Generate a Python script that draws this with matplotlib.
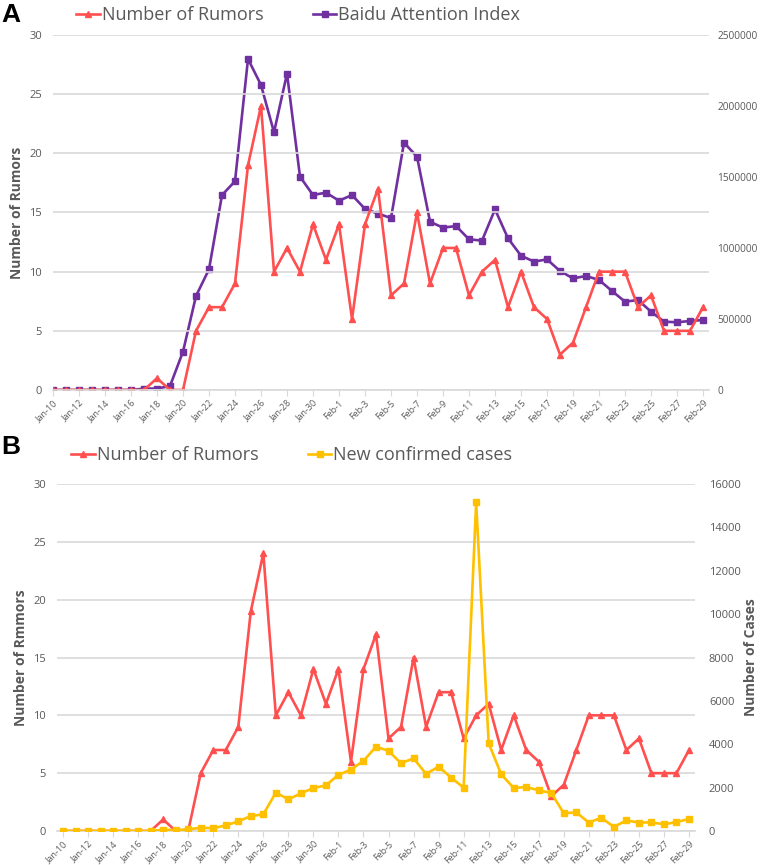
import matplotlib.pyplot as plt
from matplotlib.ticker import StrMethodFormatter

days = ['Jan-%d' % d for d in range(10, 32)] + ['Feb-%d' % d for d in range(1, 30)]
x = list(range(len(days)))

rumors = [0, 0, 0, 0, 0, 0, 0, 0, 1, 0, 0, 5, 7, 7, 9, 19, 24, 10, 12, 10, 14, 11,
          14, 6, 14, 17, 8, 9, 15, 9, 12, 12, 8, 10, 11, 7, 10, 7, 6, 3, 4, 7,
          10, 10, 10, 7, 8, 5, 5, 5, 7]

baidu = [0, 0, 0, 0, 0, 0, 0, 10000, 10000, 28000, 270000, 662000, 850000, 1373000,
         1470000, 2331000, 2148000, 1815000, 2228000, 1502000, 1373000, 1390000,
         1333000, 1373000, 1275000, 1242000, 1211000, 1742000, 1643000, 1185000,
         1143000, 1155000, 1061000, 1052000, 1272000, 1068000, 946000, 904000,
         920000, 838000, 786000, 803000, 775000, 697000, 622000, 634000, 552000,
         481000, 477000, 486000, 493000]

new_cases = [0, 0, 0, 0, 0, 0, 0, 0, 60, 40, 77, 149, 131, 259, 444, 688, 769, 1771,
             1459, 1737, 1982, 2102, 2590, 2829, 3235, 3887, 3694, 3122, 3353, 2630,
             2968, 2461, 2000, 15150, 4045, 2615, 1984, 2030, 1876, 1753, 815, 861,
             385, 615, 185, 492, 385, 400, 308, 415, 554]

red = '#FF4F4F'
purple = '#7030A0'
gold = '#FFC000'
grey = '#595959'
gridc = '#D9D9D9'
font = 'Open Sans'

W, H = 763, 865
fig = plt.figure(figsize=(W / 100, H / 100), dpi=100)


def style_axes(ax, ax2, xlo, xhi, rsize, rpad):
    ax.set_xlim(xlo, xhi)
    ax.set_ylim(0, 30)
    ax.set_yticks(range(0, 31, 5))
    ax.grid(axis='y', color=gridc, linewidth=1.2)
    ax.set_axisbelow(True)
    for s in ['top', 'right', 'left']:
        ax.spines[s].set_visible(False)
        ax2.spines[s].set_visible(False)
    ax2.spines['bottom'].set_visible(False)
    ax.spines['bottom'].set_color(gridc)
    ax.spines['bottom'].set_linewidth(1.2)
    ax.set_xticks(x[::2])
    ax.set_xticklabels(days[::2], rotation=45, ha='right', rotation_mode='anchor',
                       fontsize=6.5, color=grey, family=font)
    ax.tick_params(axis='x', color=gridc, length=4, pad=2)
    ax.tick_params(axis='y', length=0, labelsize=8, labelcolor=grey, pad=8)
    ax2.tick_params(axis='y', length=0, labelsize=rsize, labelcolor=grey, pad=rpad)
    ax2.yaxis.set_major_formatter(StrMethodFormatter('{x:.0f}'))
    for lab in ax.get_yticklabels() + ax2.get_yticklabels():
        lab.set_family(font)


# Panel A
axA = fig.add_axes([53 / W, 1 - 390 / H, (709 - 53) / W, 355 / H])
axA2 = axA.twinx()
lA1, = axA.plot(x, rumors, color=red, lw=1.9, marker='^', ms=5, label='Number of Rumors')
lA2, = axA2.plot(x, baidu, color=purple, lw=1.9, marker='s', ms=5, label='Baidu Attention Index')
axA2.set_ylim(0, 2500000)
axA2.set_yticks(range(0, 2500001, 500000))
style_axes(axA, axA2, 0, 50.46, 7.3, 6)
axA.set_ylabel('Number of Rumors', fontsize=10, color=grey, fontweight='bold', family=font, labelpad=4)
axA.set_zorder(axA2.get_zorder() + 1)
axA.patch.set_visible(False)
fig.legend(handles=[lA1, lA2], loc='center left', bbox_to_anchor=(60 / W, 1 - 15 / H), ncol=2,
           frameon=False, prop={'family': font, 'size': 13}, labelcolor=grey,
           handlelength=1.3, handletextpad=0.1, columnspacing=2.75)
fig.text(1 / W, 1 - 15 / H, 'A', fontsize=19, fontweight='bold', va='center', family='Liberation Sans')

# Panel B
axB = fig.add_axes([57 / W, 1 - 831 / H, (695 - 57) / W, 347 / H])
axB2 = axB.twinx()
lB1, = axB.plot(x, rumors, color=red, lw=1.9, marker='^', ms=5, label='Number of Rumors')
lB2, = axB2.plot(x, new_cases, color=gold, lw=1.9, marker='s', ms=5, label='New confirmed cases')
axB2.set_ylim(0, 16000)
axB2.set_yticks(range(0, 16001, 2000))
style_axes(axB, axB2, -0.48, 50.48, 8, 10)
axB.set_ylabel('Number of Rmmors', fontsize=10, color=grey, fontweight='bold', family=font, labelpad=4)
axB2.set_ylabel('Number of Cases', fontsize=10, color=grey, fontweight='bold', family=font, labelpad=2)
fig.legend(handles=[lB1, lB2], loc='center left', bbox_to_anchor=(55 / W, 1 - 455 / H), ncol=2,
           frameon=False, prop={'family': font, 'size': 13}, labelcolor=grey,
           handlelength=1.3, handletextpad=0.1, columnspacing=2.75)
fig.text(1 / W, 1 - 447 / H, 'B', fontsize=19, fontweight='bold', va='center', family='Liberation Sans')

fig.savefig('out.png', dpi=100)
